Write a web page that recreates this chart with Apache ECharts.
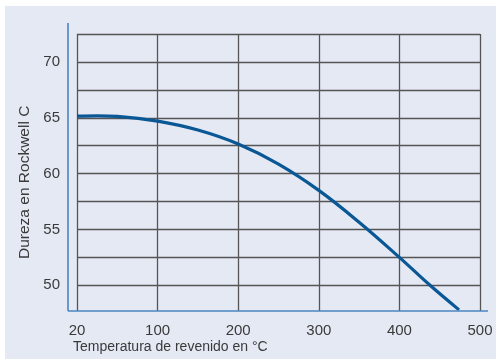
<!DOCTYPE html>
<html>
<head>
<meta charset="utf-8">
<script src="https://cdn.jsdelivr.net/npm/echarts@6/dist/echarts.min.js"></script>
<style>
html,body{margin:0;padding:0;background:#ffffff;}
#chart{width:496px;height:359px;}
</style>
</head>
<body>
<div id="chart"></div>
<script>
// Temperature axis (left edge of the grid is the 20 °C mark)
var xTickLabels = {0: '20', 100: '100', 200: '200', 300: '300', 400: '400', 500: '500'};
var temperature = [0, 25, 50, 100, 150, 200, 250, 300, 350, 400, 438, 474];
var hardness = [65.15, 65.17, 65.12, 64.7, 63.9, 62.65, 60.85, 58.5, 55.65, 52.5, 50.0, 47.8];
var yGridValues = [50, 52.5, 55, 57.5, 60, 62.5, 65, 67.5, 70, 72.5];
var yLabelValues = [50, 55, 60, 65, 70];
var xTitle = 'Temperatura de revenido en °C';
var yTitle = 'Dureza en Rockwell C';

var FONT = '"Liberation Sans Narrow", "Liberation Sans", Arial, sans-serif';
var TXT = '#3a3a3a';
var AXIS_BLUE = '#4a86c0';

var seriesData = temperature.map(function (t, i) { return [t, hardness[i]]; });

var chart = echarts.init(document.getElementById('chart'), null, {renderer: 'canvas'});
chart.setOption({
  animation: false,
  backgroundColor: '#ffffff',
  graphic: [
    {type: 'rect', z: -10, shape: {x: 5, y: 6, width: 491, height: 353}, style: {fill: '#e4e9f4'}},
    {type: 'line', z: 10, shape: {x1: 68, y1: 23, x2: 68, y2: 311}, style: {stroke: AXIS_BLUE, lineWidth: 1.6}},
    {type: 'line', z: 10, shape: {x1: 68, y1: 311, x2: 488, y2: 311}, style: {stroke: AXIS_BLUE, lineWidth: 1.6}},
    {type: 'text', left: 73, top: 340, style: {text: xTitle, font: '14px ' + FONT, fill: TXT}},
    {type: 'text', rotation: Math.PI / 2, x: 17, y: 259, style: {text: yTitle, font: '15.5px ' + FONT, fill: TXT, textVerticalAlign: 'top'}}
  ],
  grid: {left: 77, right: 16, top: 34, bottom: 48, containLabel: false},
  xAxis: {
    type: 'value', min: 0, max: 500, interval: 100,
    axisLine: {show: false}, axisTick: {show: false},
    axisLabel: {
      margin: 12, color: TXT, fontSize: 15, fontFamily: FONT,
      formatter: function (v) { return xTickLabels[v] !== undefined ? xTickLabels[v] : ''; }
    },
    splitLine: {show: true, lineStyle: {color: '#555555', width: 1.3}}
  },
  yAxis: {
    type: 'value', min: 47.7, max: 72.5,
    axisLine: {show: false},
    axisTick: {show: false, customValues: yGridValues},
    axisLabel: {customValues: yLabelValues, margin: 17, color: TXT, fontSize: 15, fontFamily: FONT},
    splitLine: {show: true, lineStyle: {color: '#555555', width: 1.3}}
  },
  series: [{
    type: 'line',
    data: seriesData,
    smooth: 0.4,
    showSymbol: false,
    lineStyle: {color: '#0a5796', width: 3.2},
    z: 5
  }]
});
</script>
</body>
</html>
